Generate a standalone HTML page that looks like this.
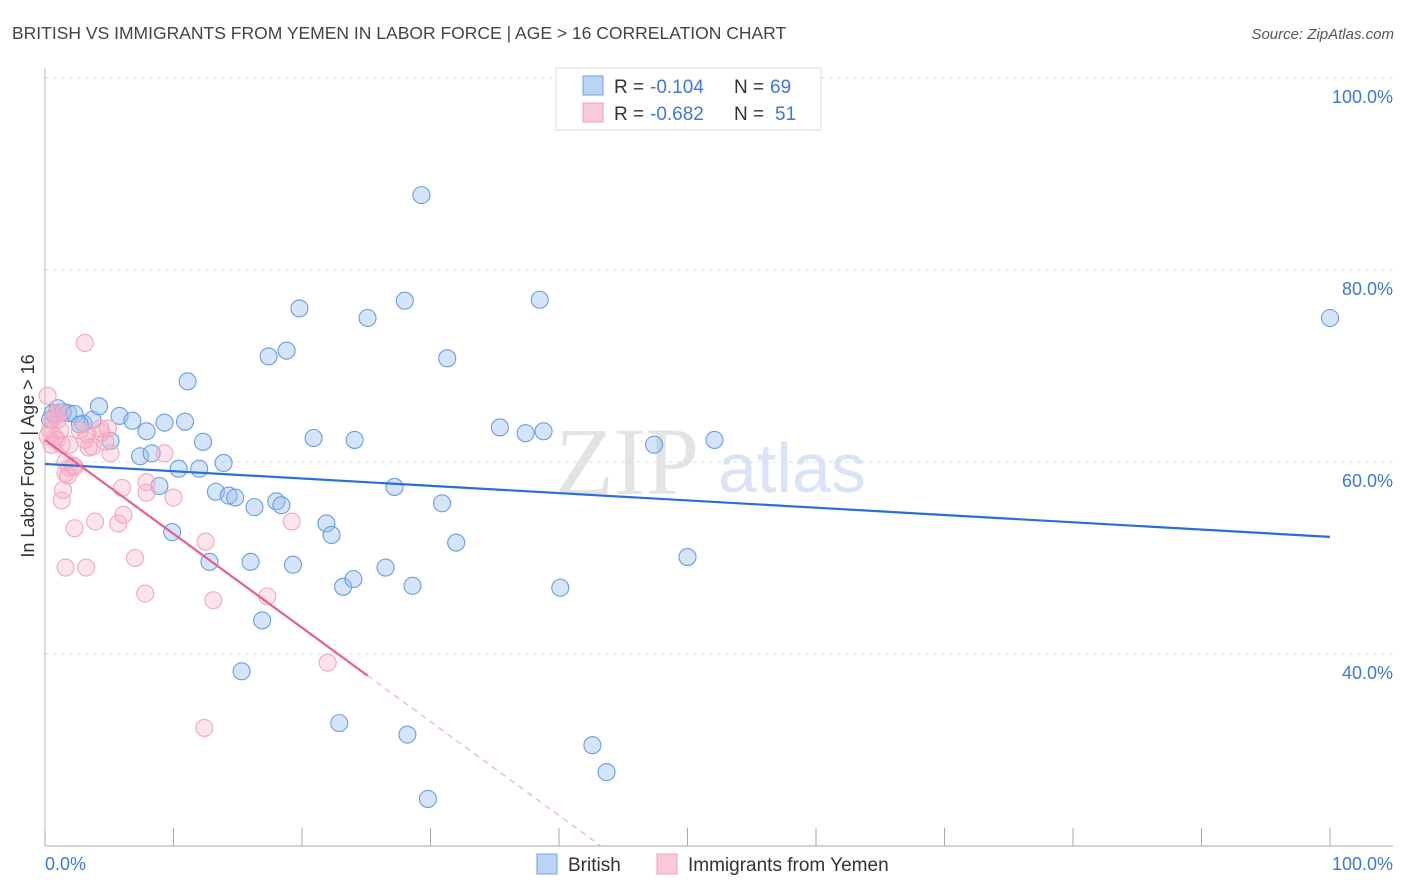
<!DOCTYPE html>
<html><head><meta charset="utf-8"><style>
body{margin:0;background:#fff;font-family:"Liberation Sans",sans-serif;}
svg{display:block}
</style></head><body>
<svg id="c" width="1406" height="892" xmlns="http://www.w3.org/2000/svg">
<text x="12" y="39" font-size="17.5" fill="#444">BRITISH VS IMMIGRANTS FROM YEMEN IN LABOR FORCE | AGE &gt; 16 CORRELATION CHART</text>
<text x="1394" y="39" font-size="15" fill="#555" font-style="italic" text-anchor="end">Source: ZipAtlas.com</text>
<text x="555" y="494" font-size="96" font-family="Liberation Serif,serif" fill="#e4e4e4">ZIP</text>
<text x="718" y="492" font-size="70" fill="#d9e5f6">atlas</text>
<g id="grid"></g><g id="pts"></g><g id="lines"></g>
<text transform="translate(34,456) rotate(-90)" font-size="18" fill="#333" text-anchor="middle">In Labor Force | Age &gt; 16</text>
<text x="45" y="870" font-size="18" fill="#3b78d8">0.0%</text>
<text x="1393" y="870" font-size="18" fill="#3b78d8" text-anchor="end">100.0%</text>
<g>
<rect x="556" y="68" width="265" height="62" fill="#fff" stroke="#ddd"/>
<rect x="583" y="76" width="20" height="19" fill="#bcd4f4" stroke="#6fa0e0"/>
<rect x="583" y="103" width="20" height="19" fill="#f9c9d7" stroke="#f0a0b8"/>
<text x="614" y="93" font-size="19" fill="#333">R =</text>
<text x="650" y="93" font-size="19" fill="#3b78d8">-0.104</text>
<text x="734" y="93" font-size="19" fill="#333">N =</text>
<text x="770" y="93" font-size="19" fill="#3b78d8">69</text>
<text x="614" y="120" font-size="19" fill="#333">R =</text>
<text x="650" y="120" font-size="19" fill="#3b78d8">-0.682</text>
<text x="734" y="120" font-size="19" fill="#333">N =</text>
<text x="775" y="120" font-size="19" fill="#3b78d8">51</text>
</g>
<g>
<rect x="537" y="854" width="20" height="20" fill="#bcd4f4" stroke="#6fa0e0"/>
<text x="568" y="871" font-size="19" fill="#333">British</text>
<rect x="657" y="854" width="20" height="20" fill="#f9c9d7" stroke="#f0a0b8"/>
<text x="688" y="871" font-size="19" fill="#333">Immigrants from Yemen</text>
</g>
</svg>
<script>
const yTicks=[40,60,80,100];
const yTickLabels=["40.0%","60.0%","80.0%","100.0%"];
const xTicks=[0,10,20,30,40,50,60,70,80,90,100];
const britishX=[0.6,1.0,1.4,1.8,2.3,3.0,3.7,4.2,5.1,5.8,6.8,7.4,7.9,8.3,8.9,9.3,9.9,10.4,10.9,11.1,12.0,12.3,12.8,13.3,13.9,14.3,14.8,15.3,16.0,16.3,16.9,17.4,18.0,18.4,18.8,19.3,19.8,20.9,21.9,22.3,22.9,23.2,24.1,24.0,25.1,26.5,27.2,28.0,28.2,28.6,29.3,29.8,30.9,31.3,32.0,35.4,37.4,38.5,38.8,40.1,42.6,43.7,47.4,50.0,52.1,100,0.4,2.7];
const britishY=[65.1,65.6,65.2,65.1,65.0,64.0,64.4,65.8,62.2,64.8,64.3,60.6,63.2,60.9,57.5,64.1,52.7,59.3,64.2,68.4,59.3,62.1,49.6,56.9,59.9,56.5,56.3,38.2,49.6,55.3,43.5,71.0,55.9,55.5,71.6,49.3,76.0,62.5,53.6,52.4,32.8,47.0,62.3,47.8,75.0,49.0,57.4,76.8,31.6,47.1,87.8,24.9,55.7,70.8,51.6,63.6,63.0,76.9,63.2,46.9,30.5,27.7,61.8,50.1,62.3,75.0,64.4,63.9];
const yemenX=[0.2,0.4,0.6,0.8,0.9,1.2,1.3,1.4,1.6,1.6,1.8,1.9,2.2,2.3,3.1,3.2,3.3,3.4,3.7,3.9,4.4,4.7,5.1,5.7,6.0,6.1,7.0,7.8,7.9,7.9,9.3,10.0,12.4,12.5,13.1,17.3,19.2,22.0,0.8,1.0,1.3,1.9,2.7,3.1,4.3,4.9,0.5,0.2,1.2,1.6,2.3];
const yemenY=[66.9,63.3,64.4,62.6,62.3,65.2,56.0,57.1,49.0,58.8,58.6,59.4,59.6,53.1,72.4,49.0,62.9,61.5,61.6,53.8,63.1,62.1,60.9,53.6,57.3,54.5,50.0,46.3,57.9,56.8,60.9,56.3,32.3,51.7,45.6,46.0,53.8,39.1,64.9,64.4,61.8,61.8,63.3,62.3,63.5,63.5,61.8,62.7,63.3,60.0,59.5];
const britishTrend=[59.8,52.2];
const yemenTrend=[62.3,-0.978];
const X=v=>45+v*12.85, Y=v=>1038-v*9.6;
const NS="http://www.w3.org/2000/svg";
function mk(t,a,p){const e=document.createElementNS(NS,t);for(const k in a)e.setAttribute(k,a[k]);p.appendChild(e);return e;}
const g=document.getElementById('grid');
yTicks.forEach((t,i)=>{
 const l=mk('line',{x1:45,x2:1393,y1:Y(t),y2:Y(t),stroke:'#ddd','stroke-dasharray':'4,4'},g);
 
 
 const tx=mk('text',{x:1393,y:Y(t)+25,'font-size':18,fill:'#3b78d8','text-anchor':'end'},g);
 tx.textContent=yTickLabels[i];
 
 
});
const ax=mk('line',{x1:45,x2:1393,y1:846,y2:846,stroke:'#aaa'},g);


const ay=mk('line',{x1:45,x2:45,y1:68,y2:846,stroke:'#bbb'},g);


xTicks.forEach(t=>{
 const l=mk('line',{x1:X(t),x2:X(t),y1:828,y2:846,stroke:'#aaa'},g);
 
 
});
const p=document.getElementById('pts');
britishX.forEach((x,i)=>{
 const c=mk('circle',{cx:X(x),cy:Y(britishY[i]),r:8.5,fill:'rgba(150,190,240,0.4)',stroke:'#6a9de0','stroke-width':1.1},p);
 
 
});
yemenX.forEach((x,i)=>{
 const c=mk('circle',{cx:X(x),cy:Y(yemenY[i]),r:8.5,fill:'rgba(248,175,198,0.35)',stroke:'#f2a8be','stroke-width':1.1},p);
 
 
});
const L=document.getElementById('lines');
const bl=mk('line',{x1:X(0),y1:Y(britishTrend[0]),x2:X(100),y2:Y(britishTrend[1]),stroke:'#2a6fd6','stroke-width':2.2},L);


const yf=x=>yemenTrend[0]+yemenTrend[1]*x;
const ys=mk('line',{x1:X(0),y1:Y(yf(0)),x2:X(25.1),y2:Y(yf(25.1)),stroke:'#e5608a','stroke-width':2.2},L);


const xe=(yemenTrend[0]-20)/-yemenTrend[1];
const yd=mk('line',{x1:X(25.1),y1:Y(yf(25.1)),x2:X(xe),y2:Y(20),stroke:'#eaa0b8','stroke-width':1,'stroke-dasharray':'6,5'},L);


</script>
</body></html>
